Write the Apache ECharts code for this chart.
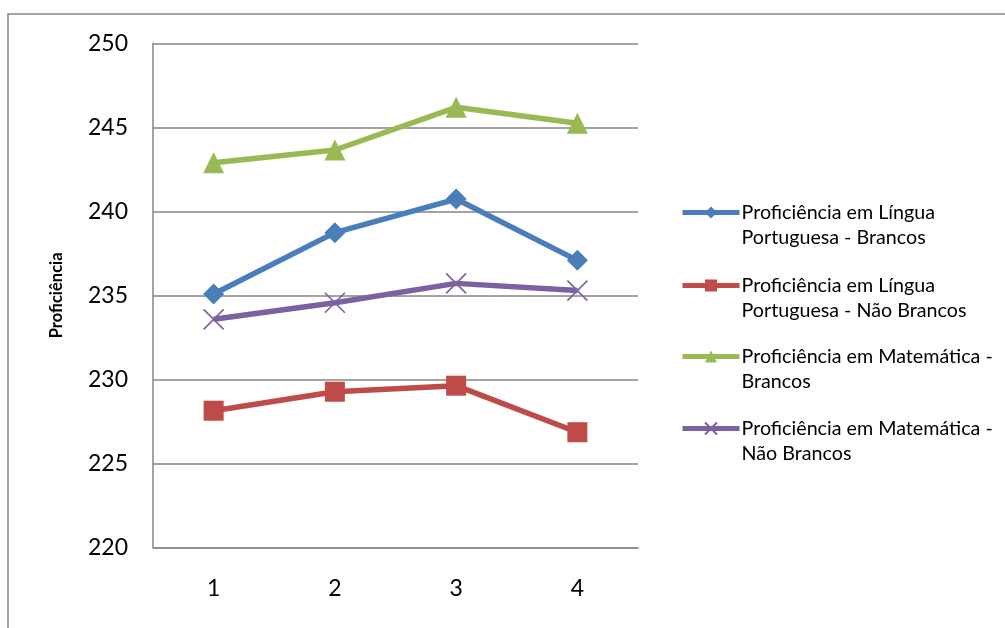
<!DOCTYPE html>
<html>
<head>
<meta charset="utf-8">
<script src="https://cdn.jsdelivr.net/npm/echarts@6/dist/echarts.min.js"></script>
<style>
  html, body { margin: 0; padding: 0; background: #fff; }
  #chart { width: 1005px; height: 628px; }
</style>
</head>
<body>
<div id="chart"></div>
<script>
// Categories and series values
const categories = ['1', '2', '3', '4'];
const seriesNames = [
  'Proficiência em Língua Portuguesa - Brancos',
  'Proficiência em Língua Portuguesa - Não Brancos',
  'Proficiência em Matemática - Brancos',
  'Proficiência em Matemática - Não Brancos'
];
const legendLines = [
  ['Proficiência em Língua', 'Portuguesa - Brancos'],
  ['Proficiência em Língua', 'Portuguesa - Não Brancos'],
  ['Proficiência em Matemática -', 'Brancos'],
  ['Proficiência em Matemática -', 'Não Brancos']
];
const lpBrancos = [235.08, 238.73, 240.73, 237.08];
const lpNaoBrancos = [228.13, 229.26, 229.62, 226.85];
const matBrancos = [242.89, 243.65, 246.19, 245.24];
const matNaoBrancos = [233.57, 234.56, 235.71, 235.28];
const yTicks = { min: 220, max: 250, step: 5 };

const FONT = 'Lato, "Open Sans", sans-serif';
const AXIS_GRAY = '#868686';
const colors = ['#4A7EBB', '#BE4B48', '#98B954', '#7D60A0'];
const values = [lpBrancos, lpNaoBrancos, matBrancos, matNaoBrancos];
const symbols = ['diamond', 'rect', 'triangle', 'path://M0,0L10,10M10,0L0,10'];
const symbolSizes = [21, 20, 21, 20];

const series = values.map((data, i) => {
  const isCross = i === 3;
  return {
    name: seriesNames[i],
    type: 'line',
    data: data,
    symbol: symbols[i],
    symbolSize: symbolSizes[i],
    showAllSymbol: true,
    z: 10 - i,
    lineStyle: { color: colors[i], width: 5.5 },
    itemStyle: isCross
      ? { color: 'rgba(0,0,0,0)', borderColor: colors[i], borderWidth: 1.6 }
      : { color: colors[i], borderWidth: 0 },
    emphasis: { disabled: true },
    animation: false
  };
});

// One legend block per series; a leading blank line keeps the key
// level with the first line of its two-line label
const legendTops = [175, 248, 319, 391];
const legends = seriesNames.map((name, i) => ({
  data: [name],
  left: 680,
  top: legendTops[i],
  orient: 'vertical',
  itemWidth: 57,
  itemHeight: 15,
  itemGap: 0,
  padding: 0,
  selectedMode: false,
  lineStyle: { width: 5 },
  formatter: () => '\u00a0\n' + legendLines[i].join('\n'),
  textStyle: {
    fontFamily: FONT,
    fontSize: 19.7,
    lineHeight: 25,
    color: '#000',
    padding: [0, 0, 0, -3]
  }
}));

const chart = echarts.init(document.getElementById('chart'), null, { renderer: 'canvas' });
chart.setOption({
  backgroundColor: '#fff',
  animation: false,
  grid: { left: 153, top: 43.3, right: 367, bottom: 80.7, containLabel: false },
  legend: legends,
  xAxis: {
    type: 'category',
    data: categories,
    boundaryGap: true,
    axisLine: { lineStyle: { color: AXIS_GRAY, width: 1.5 } },
    axisTick: { show: false },
    axisLabel: { fontFamily: FONT, fontSize: 23, color: '#000', margin: 30 },
    splitLine: { show: false }
  },
  yAxis: {
    type: 'value',
    min: yTicks.min,
    max: yTicks.max,
    interval: yTicks.step,
    name: 'Proficiência',
    nameLocation: 'middle',
    nameGap: 88,
    nameRotate: 90,
    nameTextStyle: { fontFamily: FONT, fontSize: 16.5, fontWeight: 'bold', color: '#000' },
    axisLine: { show: true, lineStyle: { color: AXIS_GRAY, width: 1.5 } },
    axisTick: { show: false },
    axisLabel: { fontFamily: FONT, fontSize: 23, color: '#000', margin: 25 },
    splitLine: { lineStyle: { color: AXIS_GRAY, width: 1.5 } }
  },
  graphic: [{
    type: 'rect',
    shape: { x: 8, y: 14, width: 1200, height: 800 },
    style: { fill: 'none', stroke: AXIS_GRAY, lineWidth: 1.5 },
    silent: true,
    z: -1
  }],
  series: series
});
</script>
</body>
</html>
